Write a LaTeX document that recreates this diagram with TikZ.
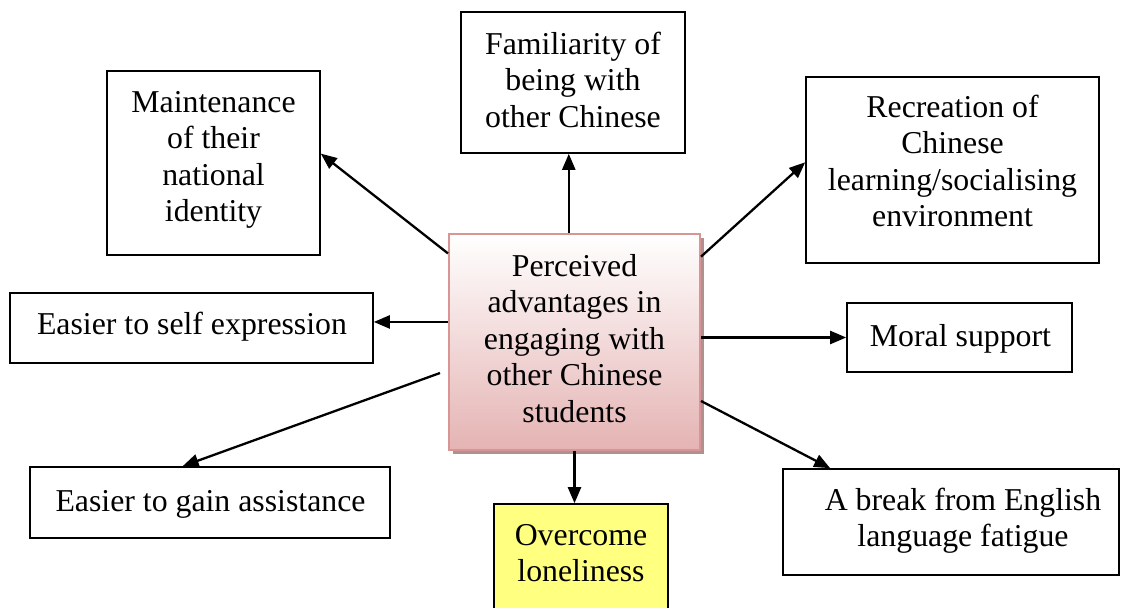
\documentclass[tikz,border=0pt]{standalone}
\usepackage{fontspec}
\setmainfont{Liberation Serif}
\usetikzlibrary{arrows.meta,calc,shadows}

\definecolor{hubedge}{HTML}{D99594}
\definecolor{hubbot}{HTML}{E5B3B3}
\definecolor{hubshadow}{HTML}{B09090}
\definecolor{noteyellow}{HTML}{FFFF80}

\begin{document}
\begin{tikzpicture}[x=1pt,y=-1pt,
  box/.style={draw=black, line width=1.6pt, inner sep=0pt},
  hub/.style={draw=hubedge, line width=2pt, inner sep=0pt,
    top color=white, bottom color=hubbot,
    drop shadow={shadow xshift=4pt, shadow yshift=-4pt, fill=hubshadow, opacity=1}},
  note/.style={box, fill=noteyellow},
  % multi-line texts are anchored at the baseline of their last line
  lbl/.style={inner sep=0pt, align=center, anchor=base,
    font=\fontsize{31.8}{36.6}\selectfont},
  arr/.style={line width=2.3pt, -{Triangle[length=16pt,width=13pt]}}]

\useasboundingbox (0,0) rectangle (1136,608);
\clip (0,0) rectangle (1136,608);

% outer boxes
\node[box, minimum width=213pt, minimum height=184pt] (m)  at (213.5,163) {};
\node[box, minimum width=224pt, minimum height=141pt] (f)  at (573,82.5) {};
\node[box, minimum width=293pt, minimum height=186pt] (r)  at (952.5,170) {};
\node[box, minimum width=363pt, minimum height=70pt]  (s)  at (191.5,328) {};
\node[box, minimum width=225pt, minimum height=69pt]  (mo) at (959.5,337.5) {};
\node[box, minimum width=360pt, minimum height=71pt]  (g)  at (210,502.5) {};
\node[note, minimum width=174pt, minimum height=130pt] (o) at (581,569) {};
\node[box, minimum width=336pt, minimum height=106pt] (b)  at (951,522) {};

% central box
\node[hub, minimum width=251pt, minimum height=216pt] (c) at (574.5,342) {};

% box texts
\node[lbl] (mt)  at (213.5,221.8) {Maintenance\\of their\\national\\identity};
\node[lbl] (ft)  at (573,127.2)   {Familiarity of\\being with\\other Chinese};
\node[lbl] (rt)  at (952.5,226.8) {Recreation of\\Chinese\\learning/socialising\\environment};
\node[lbl] (st)  at (192,334)     {Easier to self expression};
\node[lbl] (mot) at (960.5,346)   {Moral support};
\node[lbl] (gt)  at (210.5,511)   {Easier to gain assistance};
\node[lbl] (ot)  at (581,581.6)   {Overcome\\loneliness};
\node[lbl] (bt)  at (963,546.6)   {A break from English\\language fatigue};
\node[lbl] (ct)  at (574.5,422.4) {Perceived\\advantages in\\engaging with\\other Chinese\\students};

% connectors from the central box
\coordinate (gstart) at ($(c.west)+(-8,31)$);
\draw[arr] (c.145) -- (m.5);
\draw[arr] (c.93) -- (c.93 |- f.south);
\draw[arr] (c.34) -- (r.177);
\draw[arr] (c.171) -- (c.171 -| s.east);
\draw[arr] (mo.west -| c.east) -- (mo.west);
\draw[arr] (gstart) -- (g.127);
\draw[arr] (c.south) -- (c.south |- o.north);
\draw[arr] (c.-25) -- (b.156);
\end{tikzpicture}
\end{document}
